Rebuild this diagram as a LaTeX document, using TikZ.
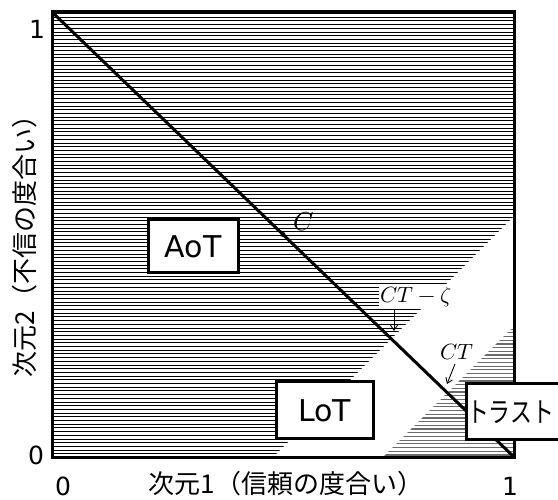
\documentclass[tikz,border=0pt]{standalone}
\usepackage{fontspec}
\usepackage{unicode-math}
\setmathfont{Latin Modern Math}
\newfontfamily\jp{Noto Sans CJK JP}
\newfontfamily\dv{DejaVu Sans}
\usetikzlibrary{arrows.meta}
\tikzset{
  frameline/.style={line width=3pt},
  hatchline/.style={line width=0.9pt, black},
  grayhatch/.style={line width=1.2pt, black!58},
  labelbox/.style={draw, line width=3pt, fill=white, minimum width=#1, inner sep=0pt},
  axisnum/.style={font=\dv\fontsize{25}{30}\selectfont, inner sep=0pt},
  axistext/.style={font=\jp\fontsize{26}{30}\selectfont, inner sep=0pt},
  mathlbl/.style={font=\fontsize{22}{26}\selectfont, inner sep=1pt},
  ptr/.style={line width=0.9pt, -{Straight Barb[length=5pt,width=7pt]}}
}
\begin{document}
\begin{tikzpicture}[x=1pt,y=-1pt]
\path[use as bounding box] (0,0) rectangle (558,500);
% corners
\coordinate (TL) at (52,12);
\coordinate (TR) at (514,12);
\coordinate (BL) at (52,457);
\coordinate (BR) at (514,457);
% black hatching
\begin{scope}
\clip (52,12) -- (514,12) -- (514,216) -- (273,457) -- (52,457) -- cycle;
\foreach \i in {0,...,121} \draw[hatchline] (52,{13.5+3.7*\i}) -- ++(462,0);
\end{scope}
% gray hatching
\begin{scope}
\clip (383,457) -- (514,326) -- (514,457) -- cycle;
\foreach \i in {0,...,40} \draw[grayhatch] (370,{455-3.7*\i}) -- ++(150,0);
\end{scope}
% frame and diagonal
\draw[frameline] (TL) rectangle (BR);
\draw[line width=3pt] (TL) -- (BR);
% point C
\node[circle, fill=black, inner sep=0pt, minimum size=5pt] (cpt) at (283,234.5) {};
\node[font=\fontsize{26}{28}\selectfont, inner sep=0pt] (clbl) at (304,222) {$C$};
% boxes
\node[labelbox=90pt, minimum height=53pt, font=\dv\fontsize{30}{34}\selectfont] (aot) at (193,246.5) {AoT};
\node[labelbox=97pt, minimum height=57pt, font=\dv\fontsize{30}{34}\selectfont] (lot) at (324.5,410.5) {LoT};
\node[labelbox=96pt, minimum height=56pt, font=\jp\fontsize{28}{30}\selectfont, align=left] (trust) at (514,412) {\scalebox{0.78}[1]{トラスト}\hspace{7pt}};
% CT labels and pointers
\node[mathlbl, fill=white] (ctz) at (416,297) {$CT-\zeta$};
\coordinate (ctzA) at (394,310);
\coordinate (ctzB) at (394,331);
\draw[ptr] (ctzA) -- (ctzB);
\node[mathlbl] (ct) at (457,352) {$CT$};
\coordinate (ctA) at (455,364);
\coordinate (ctB) at (447,384);
\draw[ptr] (ctA) -- (ctB);
% axis numbers
\node[axisnum] (y1) at (37,29) {1};
\node[axisnum] (y0) at (36,455) {0};
\node[axisnum] (x0) at (63,486) {0};
\node[axisnum] (x1) at (510,486) {1};
% axis labels
\node[axistext] (xlab) at (286,484) {次元1（信頼の度合い）};
\node[axistext, rotate=90] (ylab) at (25,240) {次元2（不信の度合い）};
\end{tikzpicture}
\end{document}
